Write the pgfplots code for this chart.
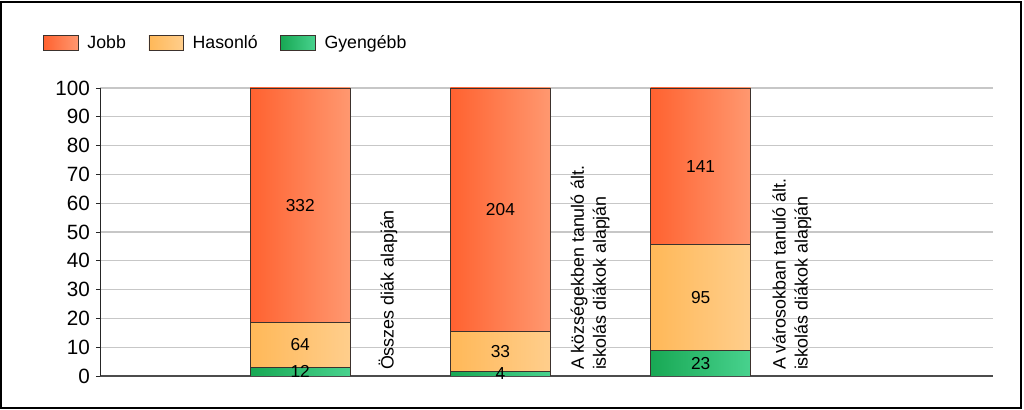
\documentclass[border=0pt]{standalone}
\usepackage{pgfplots}
\usepackage{pgfplotstable}
\pgfplotsset{compat=1.18}
\usepackage{fontspec}
\setmainfont{Liberation Sans}

\definecolor{jobbL}{RGB}{255,98,48}
\definecolor{jobbR}{RGB}{255,152,112}
\definecolor{hasL}{RGB}{255,184,88}
\definecolor{hasR}{RGB}{255,206,140}
\definecolor{gyL}{RGB}{24,168,84}
\definecolor{gyR}{RGB}{72,210,142}
\definecolor{edgecol}{RGB}{60,50,45}

\tikzset{
  barlab/.style={font=\fontsize{13}{15}\selectfont, inner sep=0pt},
  catlab/.style={font=\fontsize{13.4}{16.5}\selectfont, inner sep=0pt, rotate=90, anchor=west, align=left},
}

% one table per group: percentages (counts written as labels)
\pgfplotstableread{
x gy has jobb
1 2.941 15.686 81.373
}\barA
\pgfplotstableread{
x gy has jobb
2 1.660 13.693 84.647
}\barB
\pgfplotstableread{
x gy has jobb
3 8.880 36.680 54.440
}\barC

\pgfplotsset{
  barax/.style={
    at={(75pt,25.5pt)}, anchor=south west,
    scale only axis,
    width=669.75pt, height=216pt,
    ybar stacked,
    bar width=75pt,
    xmin=0, xmax=4.46,
    ymin=0, ymax=100,
  },
  gyst/.style={draw=edgecol, line width=0.6pt, left color=gyL, right color=gyR},
  hasst/.style={draw=edgecol, line width=0.6pt, left color=hasL, right color=hasR},
  jobbst/.style={draw=edgecol, line width=0.6pt, left color=jobbL, right color=jobbR},
}

\begin{document}
\begin{tikzpicture}
\useasboundingbox (0,0) rectangle (768pt,307.5pt);
\draw[line width=1.5pt] (0.75pt,1.5pt) rectangle (765.75pt,306pt);
\begin{axis}[
    barax,
    ytick={0,10,...,100},
    xtick=\empty,
    axis lines*=left,
    x axis line style={draw=black!70, line width=0.8pt},
    y axis line style={draw=black!85, line width=0.6pt},
    tick align=outside,
    major tick length=3pt,
    ytick style={draw=black!85, line width=0.6pt},
    ymajorgrids,
    grid style={draw=black!22, line width=0.8pt},
    tick label style={font=\fontsize{15.5}{17}\selectfont},
    /pgf/number format/assume math mode=true,
    yticklabel style={xshift=-1pt},
    legend columns=3,
    reverse legend,
    legend style={at={(-0.0638,1.156)}, anchor=west, draw=none, fill=none,
        inner sep=0pt, font=\fontsize{13.3}{15}\selectfont,
        /tikz/every odd column/.append style={column sep=4.5pt},
        /tikz/every even column/.append style={column sep=15pt}},
    legend image code/.code={\draw[#1] (0pt,-5.6pt) rectangle (26pt,5.6pt);},
    legend cell align=left,
]
\addplot[gyst] table[x=x, y=gy] {\barA};
\addplot[hasst] table[x=x, y=has] {\barA};
\addplot[jobbst] table[x=x, y=jobb] {\barA};
\legend{Gyengébb, Hasonló, Jobb}
\coordinate (a1) at (axis cs:1,1.47);
\coordinate (a2) at (axis cs:1,10.78);
\coordinate (a3) at (axis cs:1,59.31);
\node[catlab] at (axis cs:1.439,2) {Összes diák alapján};
\node[catlab] at (axis cs:2.448,2) {A községekben tanuló ált.\\iskolás diákok alapján};
\node[catlab] at (axis cs:3.456,2) {A városokban tanuló ált.\\iskolás diákok alapján};
\end{axis}

\begin{axis}[barax, hide axis]
\addplot[gyst] table[x=x, y=gy] {\barB};
\addplot[hasst] table[x=x, y=has] {\barB};
\addplot[jobbst] table[x=x, y=jobb] {\barB};
\coordinate (b1) at (axis cs:2,0.83);
\coordinate (b2) at (axis cs:2,8.51);
\coordinate (b3) at (axis cs:2,57.68);
\end{axis}

\begin{axis}[barax, hide axis]
\addplot[gyst] table[x=x, y=gy] {\barC};
\addplot[hasst] table[x=x, y=has] {\barC};
\addplot[jobbst] table[x=x, y=jobb] {\barC};
\coordinate (c1) at (axis cs:3,4.44);
\coordinate (c2) at (axis cs:3,27.22);
\coordinate (c3) at (axis cs:3,72.78);
\end{axis}

\node[barlab] at (a1) {12};
\node[barlab] at (a2) {64};
\node[barlab] at (a3) {332};
\node[barlab] at (b1) {4};
\node[barlab] at (b2) {33};
\node[barlab] at (b3) {204};
\node[barlab] at (c1) {23};
\node[barlab] at (c2) {95};
\node[barlab] at (c3) {141};
\end{tikzpicture}
\end{document}
